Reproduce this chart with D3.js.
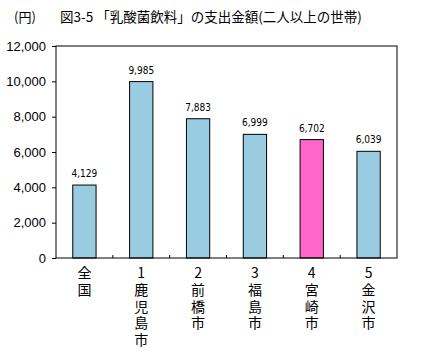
<!DOCTYPE html>
<html>
<head>
<meta charset="utf-8">
<script src="https://cdn.jsdelivr.net/npm/d3@7"></script>
<style>
  body { margin: 0; background: #fff; }
  text { font-family: "Noto Sans CJK JP", "Liberation Sans", sans-serif; }
</style>
</head>
<body>
<div id="chart"></div>
<script>
const categories = ["全国", "1鹿児島市", "2前橋市", "3福島市", "4宮崎市", "5金沢市"];
const values = [4129, 9985, 7883, 6999, 6702, 6039];
const highlight = [false, false, false, false, true, false];
const yTicks = [0, 2000, 4000, 6000, 8000, 10000, 12000];
const title = "図3-5 「乳酸菌飲料」の支出金額(二人以上の世帯)";
const unit = "(円)";

const W = 430, H = 353;
const margin = { top: 46, right: 33, bottom: 95, left: 56 },
  width = W - margin.left - margin.right,
  height = H - margin.top - margin.bottom;

const svg = d3.select("#chart").append("svg")
  .attr("width", W).attr("height", H);

svg.append("text").attr("x", 14).attr("y", 22)
  .style("font-size", "13px").text(unit);
svg.append("text").attr("x", 60).attr("y", 22)
  .style("font-size", "13.5px").text(title);

const g = svg.append("g")
  .attr("transform", "translate(" + margin.left + "," + margin.top + ")");

const x = d3.scaleBand().domain(categories).range([0, width]).paddingInner(0.59).paddingOuter(0.295);
const xb = d3.scaleBand().domain(categories).range([0, width]);
const y = d3.scaleLinear().domain([0, 12000]).range([height, 0]);

const yAxis = d3.axisLeft(y).tickValues(yTicks).tickSize(4).tickPadding(6)
  .tickFormat(d3.format(","));
g.append("g").call(yAxis)
  .call(a => a.select(".domain").remove())
  .call(a => a.selectAll("text").style("font-size", "13px")
    .style("font-family", "'Liberation Sans', sans-serif").attr("fill", "#000"));

// tick marks between categories
g.selectAll(".sep").data(categories.slice(1)).enter().append("line")
  .attr("x1", d => xb(d)).attr("x2", d => xb(d))
  .attr("y1", height).attr("y2", height - 3)
  .attr("stroke", "#000");

g.selectAll(".bar").data(values).enter().append("rect")
  .attr("x", (d, i) => x(categories[i]))
  .attr("y", d => y(d))
  .attr("width", x.bandwidth())
  .attr("height", d => height - y(d))
  .attr("fill", (d, i) => highlight[i] ? "#FF66CC" : "#99CCE0")
  .attr("stroke", "#000").attr("stroke-width", 1);

g.selectAll(".val").data(values).enter().append("text")
  .attr("x", (d, i) => x(categories[i]) + x.bandwidth() / 2)
  .attr("y", d => y(d) - 8)
  .attr("text-anchor", "middle")
  .style("font-size", "10px")
  .style("font-family", "'Liberation Sans Narrow', 'DejaVu Sans Condensed', sans-serif")
  .text(d3.format(","));

g.append("rect").attr("width", width).attr("height", height)
  .attr("fill", "none").attr("stroke", "#000").attr("stroke-width", 1);

// vertical category labels
g.selectAll(".cat").data(categories).enter().append("text")
  .attr("x", d => x(d) + x.bandwidth() / 2)
  .attr("y", height + 8)
  .style("writing-mode", "vertical-rl")
  .style("text-orientation", "upright")
  .style("letter-spacing", "2.7px")
  .style("font-size", "14px")
  .text(d => d);
</script>
</body>
</html>
